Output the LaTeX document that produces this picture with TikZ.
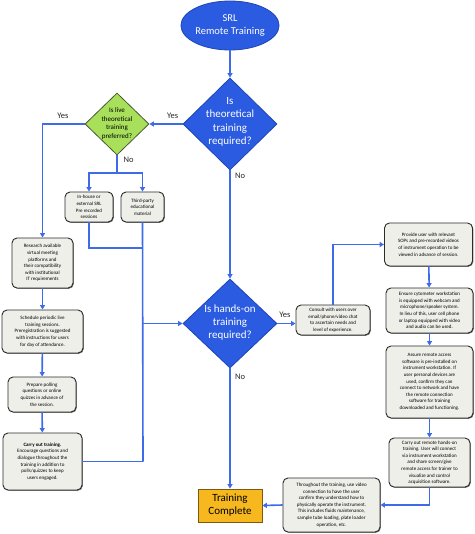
\documentclass[tikz,border=0pt]{standalone}
\usepackage{fontspec}
\setmainfont{Carlito}
\usetikzlibrary{shapes.geometric,arrows.meta,shadows}
\definecolor{lineblue}{HTML}{3D6BEA}
\definecolor{dfill}{HTML}{2A5BE0}
\definecolor{dborder}{HTML}{1E44B8}
\definecolor{gfill}{HTML}{A8E05C}
\definecolor{gborder}{HTML}{4A5A30}
\definecolor{bfill}{HTML}{EFEFE9}
\definecolor{bborder}{HTML}{2B2B2B}
\definecolor{ofill}{HTML}{F6B81E}
\definecolor{oborder}{HTML}{7A5A10}
\tikzset{
  conn/.style={draw=lineblue, line width=1.6pt},
  arr/.style={conn, -{Triangle[width=5pt,length=4.5pt]}},
  stepbox/.style={draw=bborder, fill=bfill, line width=0.9pt, rounded corners=5pt,
    align=center, inner sep=1pt, font=\fontsize{5}{6.6}\selectfont,
    drop shadow={shadow xshift=0.8pt, shadow yshift=-0.8pt, fill=black!70, opacity=0.8}},
  bigdia/.style={diamond, draw=dborder, fill=dfill, line width=0.8pt, inner sep=0pt, aspect=1},
  diatext/.style={text=white, align=center, font=\fontsize{11}{13.3}\selectfont},
  lbl/.style={font=\fontsize{8.5}{10}\selectfont, text=black!85},
}
\begin{document}
\begin{tikzpicture}[x=1pt,y=-1pt]
\useasboundingbox (0,0) rectangle (474,534);
% start
\node[ellipse, draw=dborder, fill=dfill, line width=0.8pt, minimum width=90pt, minimum height=49pt,
  text=white, align=center, font=\fontsize{10.5}{12.7}\selectfont, inner sep=0pt] (start) at (230,25.5) {SRL\\Remote Training};
% diamonds
\node[bigdia, minimum width=94pt, minimum height=92pt] (d1) at (230,124) {};
\node[diatext] (d1t) at (230,122) {Is\\theoretical\\training\\required?};
\node[diamond, draw=gborder, fill=gfill, line width=0.8pt, inner sep=0pt, minimum width=64pt, minimum height=62pt] (g) at (117,124) {};
\node[align=center, font=\fontsize{7}{8.7}\selectfont] (gt) at (117,123.5) {Is live\\theoretical\\training\\preferred?};
\node[bigdia, minimum width=94pt, minimum height=89pt] (d2) at (230,323.5) {};
\node[diatext] (d2t) at (230,322.5) {Is hands-on\\training\\required?};
% boxes left
\node[stepbox, minimum width=48pt, minimum height=30pt] (inh) at (89,207) {In-house or\\external SRL\\Pre recorded\\sessions};
\node[stepbox, minimum width=43pt, minimum height=30pt] (third) at (142.5,207) {Third-party\\educational\\material};
\node[stepbox, minimum width=61pt, minimum height=50pt] (res) at (42.5,263) {Research available\\virtual meeting\\platforms and\\their compatibility\\with institutional\\IT requirements};
\node[stepbox, minimum width=81pt, minimum height=43pt] (sch) at (42.5,331.5) {Schedule periodic live\\training sessions.\\Preregistration is suggested\\with instructions for users\\for day of attendance.};
\node[stepbox, minimum width=68pt, minimum height=35pt] (prep) at (42,394.5) {Prepare polling\\questions or online\\quizzes in advance of\\the session.};
\node[stepbox, minimum width=79pt, minimum height=57pt] (carry) at (42.5,461.5) {\textbf{Carry out training.}\\Encourage questions and\\dialogue throughout the\\training in addition to\\polls/quizzes to keep\\users engaged.};
% boxes right
\node[stepbox, minimum width=74pt, minimum height=30pt] (cons) at (333,320) {Consult with users over\\email/phone/video chat\\to ascertain needs and\\level of experience.};
\node[stepbox, minimum width=88pt, minimum height=43pt] (prov) at (428.5,244.5) {Provide user with relevant\\SOPs and pre-recorded videos\\of instrument operation to be\\viewed in advance of session.};
\node[stepbox, minimum width=87pt, minimum height=45pt] (ens) at (429.5,310.5) {Ensure cytometer workstation\\is equipped with webcam and\\microphone/speaker system.\\In lieu of this, user cell phone\\or laptop equipped with video\\and audio can be used.};
\node[stepbox, minimum width=87pt, minimum height=72pt] (ass) at (429.5,382) {Assure remote access\\software is pre-installed on\\instrument workstation. If\\user personal devices are\\used, confirm they can\\connect to network and have\\the remote connection\\software for training\\downloaded and functioning.};
\node[stepbox, minimum width=81pt, minimum height=49pt] (crem) at (429.5,462.5) {Carry out remote hands-on\\training. User will connect\\via instrument workstation\\and share screen/give\\remote access for trainer to\\visualize and control\\acquisition software.};
\node[stepbox, minimum width=97pt, minimum height=54pt] (thr) at (331.5,505) {Throughout the training, use video\\connection to have the user\\confirm they understand how to\\physically operate the instrument.\\This includes fluids maintenance,\\sample tube loading, plate loader\\operation, etc.};
\node[draw=oborder, fill=ofill, line width=0.8pt, minimum width=64pt, minimum height=33pt, inner sep=0pt,
  align=center, font=\fontsize{11}{13}\selectfont] (done) at (230,505.5) {Training\\Complete};
% coordinates
\coordinate (j1) at (117,173);
\coordinate (j2) at (143,248);
\coordinate (j4) at (143,323.5);
\coordinate (j3) at (143,461.5);
% connectors
\draw[arr] (start) -- (d1);
\draw[arr] (d1.west) -- (g.east) node[lbl, pos=0.3, above=1pt] {Yes};
\draw[arr] (g.west) -| (res.north);
\node[lbl] (yes2) at (63,116) {Yes};
\draw[conn] (g.south) -- (j1);
\node[lbl] (no1) at (128.5,160) {No};
\draw[arr] (j1) -| (inh.north);
\draw[arr] (j1) -| (third.north);
\draw[conn] (inh.south) |- (j2);
\draw[conn] (third.south) -- (j3);
\draw[conn] (carry.east) -- (j3);
\draw[arr] (j4) -- (d2.west);
\draw[arr] (res) -- (sch);
\draw[arr] (sch) -- (prep);
\draw[arr] (prep) -- (carry);
\draw[arr] (d1.south) -- (d2.north);
\node[lbl] (no2) at (240,176) {No};
\draw[arr] (d2.east) -- (d2.east -| cons.west);
\node[lbl] (yes3) at (285,315) {Yes};
\draw[arr] (cons.north) |- (prov.west);
\draw[arr] (prov) -- (ens);
\draw[arr] (ens) -- (ass);
\draw[arr] (ass) -- (crem);
\draw[arr] (crem.south) |- (thr.east);
\draw[arr] (thr.west) -- (done.east);
\draw[arr] (d2.south) -- (done.north);
\node[lbl] (no3) at (240,377) {No};
\end{tikzpicture}
\end{document}
